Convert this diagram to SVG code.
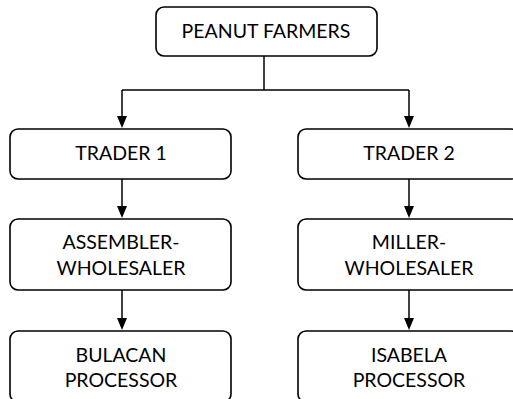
<svg xmlns="http://www.w3.org/2000/svg" width="513" height="399" viewBox="0 0 513 399">
<style>
.box{fill:#fff;stroke:#000;stroke-width:1.6}
.lbl{font-family:Lato,"Liberation Sans",sans-serif;font-size:19.5px;fill:#000;text-anchor:middle}
.ln{fill:none;stroke:#000;stroke-width:1.5}
</style>
<g id="connectors">
<path class="ln" d="M264,56 V90 M122,90 H409"/>
<path class="ln" d="M122,90 V117" />
<path d="M117,116 L127,116 L122,128 Z"/>
<path class="ln" d="M409,90 V117"/>
<path d="M404,116 L414,116 L409,128 Z"/>
<path class="ln" d="M122,179 V207"/>
<path d="M117,206 L127,206 L122,218 Z"/>
<path class="ln" d="M409,179 V207"/>
<path d="M404,206 L414,206 L409,218 Z"/>
<path class="ln" d="M122,290 V319"/>
<path d="M117,318 L127,318 L122,330 Z"/>
<path class="ln" d="M409,290 V319"/>
<path d="M404,318 L414,318 L409,330 Z"/>
</g>
<g id="peanut-farmers">
<rect class="box" x="156" y="7" width="221" height="49" rx="8"/>
<text class="lbl" x="266" y="38">PEANUT FARMERS</text>
</g>
<g id="trader-1">
<rect class="box" x="10" y="129" width="221" height="50" rx="8"/>
<text class="lbl" x="121" y="160">TRADER 1</text>
</g>
<g id="trader-2">
<rect class="box" x="298" y="129" width="221" height="50" rx="8"/>
<text class="lbl" x="409" y="160">TRADER 2</text>
</g>
<g id="assembler-wholesaler">
<rect class="box" x="10" y="219" width="221" height="71" rx="8"/>
<text class="lbl" x="121" y="249">ASSEMBLER-</text>
<text class="lbl" x="121" y="275">WHOLESALER</text>
</g>
<g id="miller-wholesaler">
<rect class="box" x="298" y="219" width="221" height="71" rx="8"/>
<text class="lbl" x="409" y="249">MILLER-</text>
<text class="lbl" x="409" y="275">WHOLESALER</text>
</g>
<g id="bulacan-processor">
<rect class="box" x="10" y="331" width="221" height="71" rx="8"/>
<text class="lbl" x="121" y="362">BULACAN</text>
<text class="lbl" x="121" y="387">PROCESSOR</text>
</g>
<g id="isabela-processor">
<rect class="box" x="298" y="331" width="221" height="71" rx="8"/>
<text class="lbl" x="409" y="362">ISABELA</text>
<text class="lbl" x="409" y="387">PROCESSOR</text>
</g>
</svg>
